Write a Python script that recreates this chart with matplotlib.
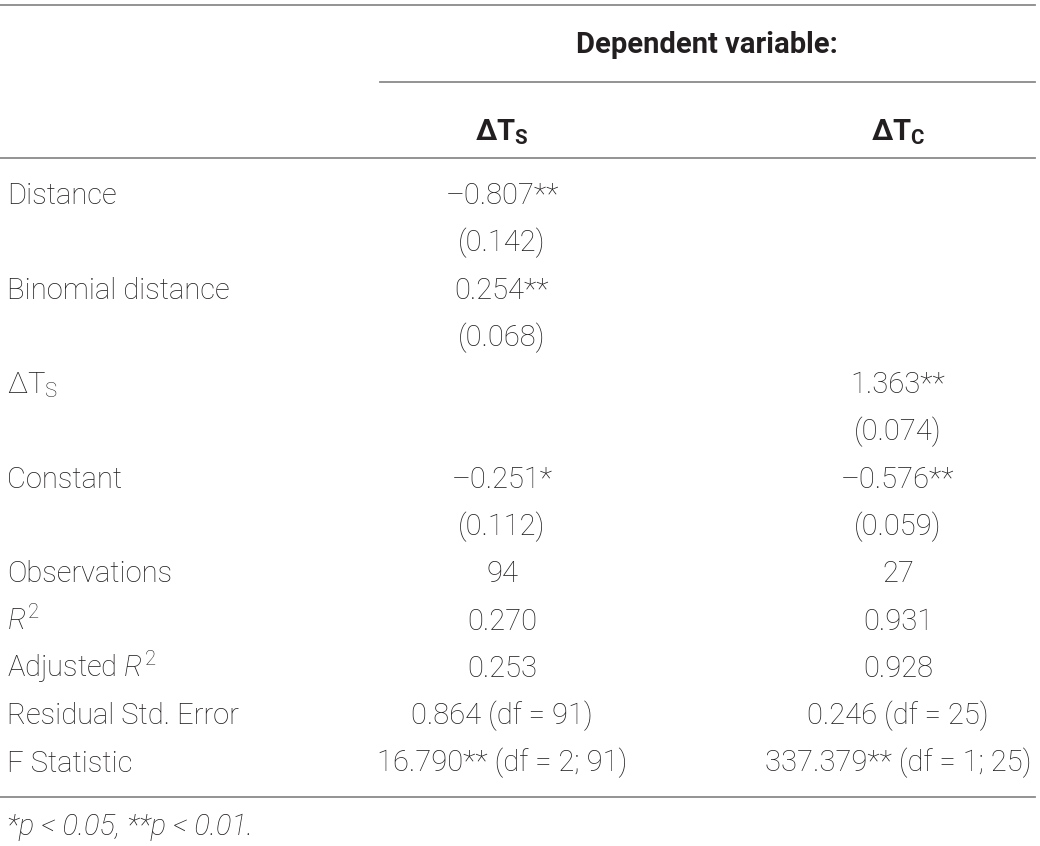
import matplotlib
matplotlib.use("Agg")
import matplotlib.pyplot as plt

plt.rcParams['font.family'] = ['Roboto', 'DejaVu Sans']
plt.rcParams['mathtext.fontset'] = 'custom'
plt.rcParams['mathtext.rm'] = 'Roboto:weight=light'
plt.rcParams['mathtext.it'] = 'Roboto:style=italic:weight=light'
plt.rcParams['mathtext.bf'] = 'Roboto:weight=bold'

header_group = "Dependent variable:"
col_headers = ["ΔT$_\\mathbf{S}$", "ΔT$_\\mathbf{C}$"]
row_labels = ["Distance", "", "Binomial distance", "", "ΔT$_\\mathrm{S}$", "",
              "Constant", "", "Observations", "$\\mathit{R}^2$", "Adjusted $\\mathit{R}^2$",
              "Residual Std. Error", "F Statistic"]
col1 = ["–0.807**", "(0.142)", "0.254**", "(0.068)", "", "", "–0.251*", "(0.112)",
        "94", "0.270", "0.253", "0.864 (df = 91)", "16.790** (df = 2; 91)"]
col2 = ["", "", "", "", "1.363**", "(0.074)", "–0.576**", "(0.059)",
        "27", "0.931", "0.928", "0.246 (df = 25)", "337.379** (df = 1; 25)"]
footnote = "*p < 0.05, **p < 0.01."

W, H = 1040, 846
fig = plt.figure(figsize=(W / 100, H / 100), dpi=100)
ax = fig.add_axes([0, 0, 1, 1])
ax.set_xlim(0, W)
ax.set_ylim(H, 0)
ax.axis('off')

txt = '#231f20'
line_c = '#8a8a8a'
fs = 21
x_lab, x1, x2 = 7, 502, 898
base0, step = 204, 47.3

ax.plot([0, 1035], [5, 5], color=line_c, lw=1.3)
ax.plot([380, 1035], [82, 82], color=line_c, lw=1.3)
ax.plot([0, 1035], [158, 158], color=line_c, lw=1.3)
ax.plot([0, 1035], [797, 797], color=line_c, lw=1.3)

ax.text(707, 53, header_group, ha='center', va='baseline', fontsize=fs, fontweight='bold', color=txt)
ax.text(x1, 140, col_headers[0], ha='center', va='baseline', fontsize=fs, fontweight='bold', color=txt)
ax.text(x2, 140, col_headers[1], ha='center', va='baseline', fontsize=fs, fontweight='bold', color=txt)

for i, (lab, a, b) in enumerate(zip(row_labels, col1, col2)):
    y = base0 + step * i
    if lab:
        ax.text(x_lab, y, lab, ha='left', va='baseline', fontsize=fs, fontweight='light', color=txt)
    if a:
        ax.text(x1, y, a, ha='center', va='baseline', fontsize=fs, fontweight='light', color=txt)
    if b:
        ax.text(x2, y, b, ha='center', va='baseline', fontsize=fs, fontweight='light', color=txt)

ax.text(x_lab, 835, footnote, ha='left', va='baseline', fontsize=fs, style='italic',
        fontweight='light', color=txt)

fig.savefig("out.png", dpi=100)
